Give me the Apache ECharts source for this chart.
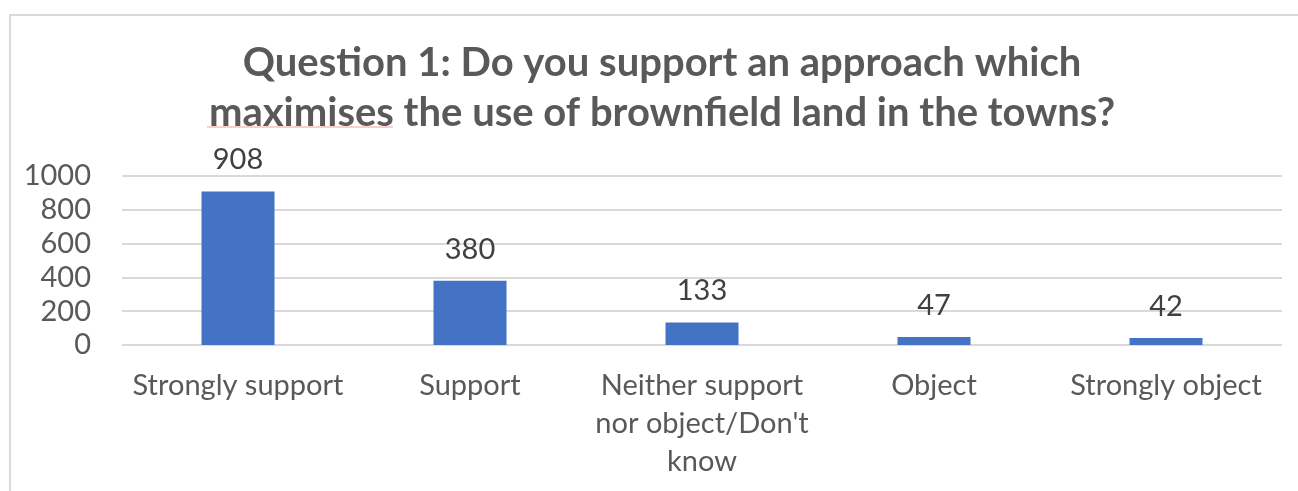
<!DOCTYPE html>
<html>
<head>
<meta charset="utf-8">
<script src="https://cdn.jsdelivr.net/npm/echarts@6/dist/echarts.min.js"></script>
<style>
html,body{margin:0;padding:0;background:#fff;}
#chart{width:1298px;height:491px;}
</style>
</head>
<body>
<div id="chart"></div>
<script>
var titleText = 'Question 1: Do you support an approach which\nmaximises the use of brownfield land in the towns?';
var categories = ['Strongly support', 'Support', 'Neither support\nnor object/Don\'t\nknow', 'Object', 'Strongly object'];
var values = [908, 380, 133, 47, 42];
var yMin = 0, yMax = 1000, yInterval = 200;

var chart = echarts.init(document.getElementById('chart'));
var font = 'Lato, "Open Sans", sans-serif';
chart.setOption({
  animation: false,
  backgroundColor: '#fff',
  title: {
    text: titleText,
    left: 662,
    top: 38,
    padding: 0,
    textAlign: 'center',
    textStyle: { fontFamily: font, fontSize: 40, fontWeight: 'bold', color: '#595959', lineHeight: 50 }
  },
  graphic: [
    { type: 'rect', shape: { x: 10, y: 15, width: 1300, height: 500 }, style: { fill: 'none', stroke: '#d9d9d9', lineWidth: 2 }, silent: true, z: -1 },
    { type: 'line', shape: { x1: 207, y1: 127, x2: 393, y2: 127 }, style: { stroke: '#f2a0a0', lineWidth: 1 }, silent: true }
  ],
  grid: { left: 122, right: 16, top: 176, bottom: 146, containLabel: false },
  xAxis: {
    type: 'category',
    data: categories,
    axisLine: { show: false },
    axisTick: { show: false },
    axisLabel: { fontFamily: font, fontSize: 29, color: '#595959', lineHeight: 38, margin: 22, interval: 0 }
  },
  yAxis: {
    type: 'value',
    min: yMin, max: yMax, interval: yInterval,
    axisLine: { show: false },
    axisTick: { show: false },
    splitLine: { lineStyle: { color: '#d9d9d9', width: 2 } },
    axisLabel: { fontFamily: font, fontSize: 29, color: '#595959', margin: 31, formatter: function (v) { return String(v); } }
  },
  series: [{
    type: 'bar',
    data: values,
    barWidth: 73,
    itemStyle: { color: '#4472c4' },
    label: { show: true, position: 'top', distance: 17, fontFamily: font, fontSize: 29, color: '#404040' }
  }]
});
</script>
</body>
</html>
